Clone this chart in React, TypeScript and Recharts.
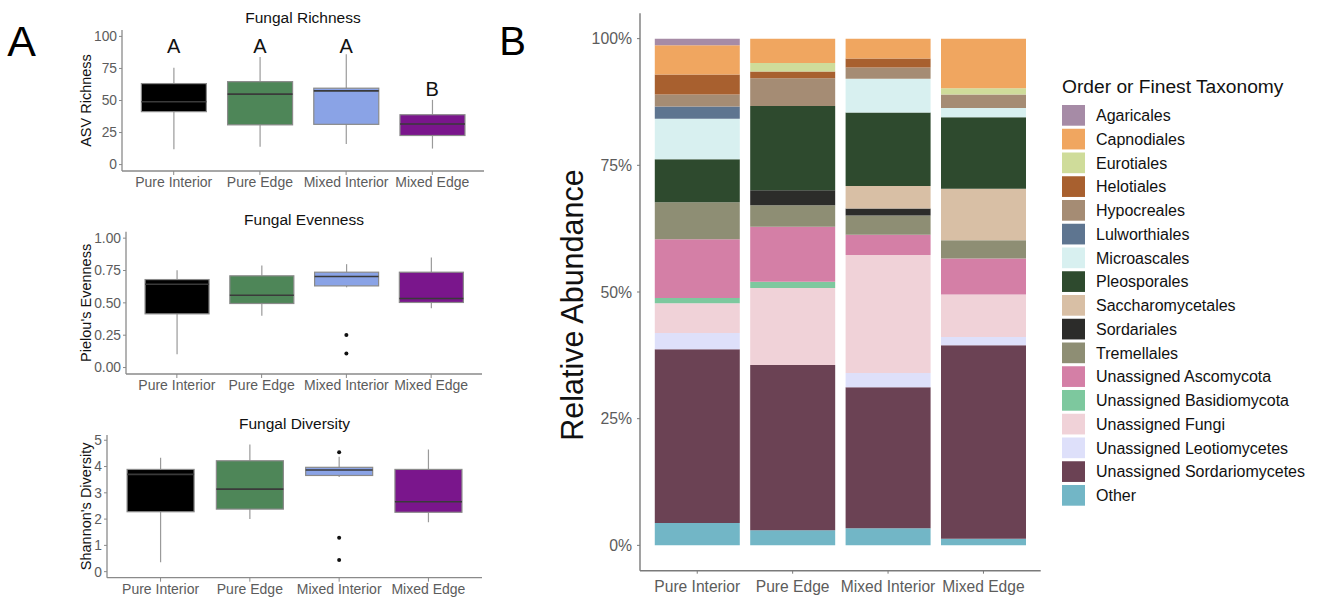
import React from 'react';
import { ComposedChart, BarChart, Bar, XAxis, YAxis, Scatter, Label } from 'recharts';

// ---------- Panel A data ----------
const groups = ['Pure Interior', 'Pure Edge', 'Mixed Interior', 'Mixed Edge'];
const groupColors = ['#000000', '#4E8658', '#8AA3E6', '#7A168C'];

// Fungal Richness
const richMin = [12, 14, 16, 12.5];
const richQ1 = [41.3, 31, 31.4, 22.7];
const richMed = [49, 55, 57.5, 31.7];
const richQ3 = [63.2, 64.7, 59.6, 38.9];
const richMax = [75.5, 84, 86, 50.5];
const richOutliers: number[][] = [[], [], [], []];
const richLetters = ['A', 'A', 'A', 'B'];
const richLetterY = [87, 87, 87, 53.5];

// Fungal Evenness
const evenMin = [0.103, 0.4, 0.62, 0.459];
const evenQ1 = [0.415, 0.495, 0.631, 0.503];
const evenMed = [0.644, 0.559, 0.704, 0.534];
const evenQ3 = [0.68, 0.709, 0.737, 0.737];
const evenMax = [0.752, 0.789, 0.799, 0.851];
const evenOutliers: number[][] = [[], [], [0.252, 0.108], []];

// Fungal Diversity
const divMin = [0.36, 2.0, 3.6, 1.88];
const divQ1 = [2.28, 2.38, 3.66, 2.26];
const divMed = [3.7, 3.14, 3.87, 2.66];
const divQ3 = [3.89, 4.22, 3.97, 3.89];
const divMax = [4.33, 4.84, 4.37, 4.65];
const divOutliers: number[][] = [[], [], [4.54, 1.29, 0.44], []];

// ---------- Panel B data ----------
const taxa = [
  'Agaricales', 'Capnodiales', 'Eurotiales', 'Helotiales', 'Hypocreales', 'Lulworthiales',
  'Microascales', 'Pleosporales', 'Saccharomycetales', 'Sordariales', 'Tremellales',
  'Unassigned Ascomycota', 'Unassigned Basidiomycota', 'Unassigned Fungi',
  'Unassigned Leotiomycetes', 'Unassigned Sordariomycetes', 'Other',
];
const taxaColors = [
  '#A68BA6', '#F0A660', '#CFDC9A', '#A8602F', '#A58C74', '#5E7590',
  '#D8F0F0', '#2E4A2E', '#D8BFA5', '#2C2C2A', '#8E8E74',
  '#D47FA6', '#7DC89E', '#F0D2D8', '#DEE0FA', '#6B4254', '#72B6C6',
];
const agaricales = [1.3, 0, 0, 0];
const capnodiales = [5.8, 4.8, 3.9, 9.8];
const eurotiales = [0, 1.7, 0, 1.2];
const helotiales = [3.9, 1.3, 1.8, 0];
const hypocreales = [2.4, 5.5, 2.2, 2.7];
const lulworthiales = [2.4, 0, 0, 0];
const microascales = [8.0, 0, 6.7, 1.8];
const pleosporales = [8.5, 16.6, 14.5, 14.1];
const saccharomycetales = [0, 0, 4.4, 10.2];
const sordariales = [0, 3.0, 1.4, 0];
const tremellales = [7.3, 4.2, 3.8, 3.6];
const unAscomycota = [11.6, 10.9, 4.0, 7.1];
const unBasidiomycota = [1.0, 1.2, 0, 0];
const unFungi = [5.9, 15.2, 23.3, 8.4];
const unLeotiomycetes = [3.2, 0, 2.8, 1.6];
const unSordariomycetes = [34.3, 32.6, 27.8, 38.2];
const other = [4.4, 3.0, 3.4, 1.3];
const taxaValues = [
  agaricales, capnodiales, eurotiales, helotiales, hypocreales, lulworthiales,
  microascales, pleosporales, saccharomycetales, sordariales, tremellales,
  unAscomycota, unBasidiomycota, unFungi, unLeotiomycetes, unSordariomycetes, other,
];
const pctTicks = [0, 25, 50, 75, 100];

const FONT = '"Liberation Sans", Arial, sans-serif';
const TICK_COLOR = '#5c5c5c';
const AXIS_COLOR = '#8a8a8a';

function buildBoxRows(mins: number[], q1: number[], med: number[], q3: number[], max: number[], outs: number[][], letters?: string[], letterY?: number[]) {
  return groups.map((g, i) => {
    const row: any = { group: g, min: mins[i], q1: q1[i], med: med[i], q3: q3[i], max: max[i], color: groupColors[i] };
    outs[i].forEach((v, k) => { row['o' + k] = v; });
    if (letters && letterY) { row.letter = letters[i]; row.letterY = letterY[i]; }
    return row;
  });
}

const BoxShape = (props: any) => {
  const { x, y, width, height, payload } = props;
  const top = Math.min(y, y + height);
  const bot = Math.max(y, y + height);
  const { min, q1, med, q3, max, color } = payload;
  const py = (v: number) => top + ((max - v) / (max - min)) * (bot - top);
  const cx = x + width / 2;
  return (
    <g>
      <line x1={cx} x2={cx} y1={py(max)} y2={py(q3)} stroke="#9a9a9a" strokeWidth={1.2} />
      <line x1={cx} x2={cx} y1={py(q1)} y2={py(min)} stroke="#9a9a9a" strokeWidth={1.2} />
      <rect x={x} y={py(q3)} width={width} height={py(q1) - py(q3)} fill={color} stroke="#8a8a8a" strokeWidth={1.2} />
      <line x1={x} x2={x + width} y1={py(med)} y2={py(med)} stroke="#3a3a3a" strokeWidth={1.6} />
    </g>
  );
};

const OutlierShape = (k: number) => (props: any) => {
  const { cx, cy, payload } = props;
  if (payload == null || payload['o' + k] == null || cx == null || cy == null || isNaN(cy)) return <g />;
  return <circle cx={cx} cy={cy} r={2} fill="#111" />;
};

const LetterShape = (props: any) => {
  const { cx, cy, payload } = props;
  if (payload == null || payload.letter == null) return <g />;
  return (
    <text x={cx} y={cy} textAnchor="middle" fontSize={20} fill="#111" fontFamily={FONT}>
      {payload.letter}
    </text>
  );
};

type BoxCfg = {
  top: number; left: number; width: number; height: number;
  margin: { top: number; right: number; bottom: number; left: number };
  yWidth: number; xHeight: number; domain: [number, number]; ticks: number[];
  fmt: (v: number) => string; rows: any[]; nOut: number; yLabel: string; labelX: number;
  letters?: boolean;
};

const BoxPanel = ({ cfg }: { cfg: BoxCfg }) => {
  const plotW = cfg.width - cfg.margin.left - cfg.margin.right - cfg.yWidth;
  const pad = (plotW / 4.2) * 0.1;
  const outIdx = Array.from({ length: cfg.nOut }, (_, k) => k);
  return (
    <div style={{ position: 'absolute', left: cfg.left, top: cfg.top }}>
      <ComposedChart width={cfg.width} height={cfg.height} data={cfg.rows} margin={cfg.margin} barCategoryGap="12.5%">
        <XAxis
          dataKey="group" type="category" height={cfg.xHeight} padding={{ left: pad, right: pad }}
          axisLine={{ stroke: AXIS_COLOR, strokeWidth: 1.3 }} tickLine={{ stroke: AXIS_COLOR }}
          tickSize={4} tickMargin={2} interval={0}
          tick={{ fontSize: 14, fill: TICK_COLOR, fontFamily: FONT }}
        />
        <YAxis
          type="number" domain={cfg.domain} ticks={cfg.ticks} width={cfg.yWidth} allowDataOverflow
          axisLine={{ stroke: AXIS_COLOR, strokeWidth: 1.3 }} tickLine={{ stroke: AXIS_COLOR }}
          tickSize={3} tickMargin={2} tickFormatter={cfg.fmt} interval={0}
          tick={{ fontSize: 13.8, fill: TICK_COLOR, fontFamily: FONT }}
        >
          <Label
            content={(p: any) => {
              const vb = p.viewBox;
              const cx = vb.x + cfg.labelX;
              const cy = vb.y + vb.height / 2;
              return (
                <text x={cx} y={cy} transform={`rotate(-90 ${cx} ${cy})`} textAnchor="middle" fontSize={14.5} fill="#111" fontFamily={FONT}>
                  {cfg.yLabel}
                </text>
              );
            }}
          />
        </YAxis>
        <Bar dataKey={(d: any) => [d.min, d.max]} shape={BoxShape} isAnimationActive={false} />
        {outIdx.map((k) => (
          <Scatter key={k} dataKey={'o' + k} shape={OutlierShape(k)} isAnimationActive={false} />
        ))}
        {cfg.letters ? <Scatter dataKey="letterY" shape={LetterShape} isAnimationActive={false} /> : null}
      </ComposedChart>
    </div>
  );
};

const richRows = buildBoxRows(richMin, richQ1, richMed, richQ3, richMax, richOutliers, richLetters, richLetterY);
const evenRows = buildBoxRows(evenMin, evenQ1, evenMed, evenQ3, evenMax, evenOutliers);
const divRows = buildBoxRows(divMin, divQ1, divMed, divQ3, divMax, divOutliers);

const cfgs: BoxCfg[] = [
  {
    top: 0, left: 0, width: 500, height: 200, margin: { top: 30, right: 16, bottom: 4, left: 0 },
    yWidth: 122, xHeight: 25, domain: [-5, 105], ticks: [0, 25, 50, 75, 100], fmt: (v) => String(v),
    rows: richRows, nOut: 0, yLabel: 'ASV Richness', labelX: 91, letters: true,
  },
  {
    top: 190, left: 0, width: 500, height: 210, margin: { top: 41.7, right: 18, bottom: 1, left: 0 },
    yWidth: 126, xHeight: 25, domain: [-0.05, 1.05], ticks: [0, 0.25, 0.5, 0.75, 1], fmt: (v) => v.toFixed(2),
    rows: evenRows, nOut: 2, yLabel: "Pielou's Evenness", labelX: 91,
  },
  {
    top: 390, left: 0, width: 500, height: 207, margin: { top: 45, right: 18, bottom: 0.3, left: 0 },
    yWidth: 107, xHeight: 19, domain: [-0.23, 5.2], ticks: [0, 1, 2, 3, 4, 5], fmt: (v) => String(v),
    rows: divRows, nOut: 3, yLabel: "Shannon's Diversity", labelX: 91,
  },
];

const titles = [
  { text: 'Fungal Richness', x: 303, y: 23 },
  { text: 'Fungal Evenness', x: 304, y: 225 },
  { text: 'Fungal Diversity', x: 294.5, y: 428.5 },
];

// ---------- Panel B ----------
const barRows = groups.map((g, i) => {
  const row: any = { group: g };
  taxa.forEach((t, j) => { row[t] = taxaValues[j][i]; });
  return row;
});

const BW = 510;
const bMargin = { top: 13.3, right: 9.3, bottom: 2.3, left: 0 };
const bYWidth = 100;
const bPlotW = BW - bMargin.right - bYWidth;
const bPad = (bPlotW / 4.2) * 0.1;

const AbundanceChart = () => (
  <div style={{ position: 'absolute', left: 540, top: 0 }}>
    <BarChart width={BW} height={597} data={barRows} margin={bMargin} barCategoryGap="5.5%">
      <XAxis
        dataKey="group" type="category" height={24} padding={{ left: bPad, right: bPad }}
        axisLine={{ stroke: '#7a7a7a', strokeWidth: 1.4 }} tickLine={{ stroke: '#7a7a7a' }}
        tickSize={3} tickMargin={7} interval={0}
        tick={{ fontSize: 15.6, fill: TICK_COLOR, fontFamily: FONT }}
      />
      <XAxis
        xAxisId="top" orientation="top" dataKey="group" type="category" height={0}
        tick={false} tickLine={false} axisLine={{ stroke: '#7a7a7a', strokeWidth: 1.4 }}
      />
      <YAxis
        type="number" domain={[-5, 105]} ticks={pctTicks} width={bYWidth} allowDataOverflow interval={0}
        axisLine={{ stroke: '#7a7a7a', strokeWidth: 1.4 }} tickLine={{ stroke: '#7a7a7a' }}
        tickSize={3} tickMargin={5} tickFormatter={(v: number) => `${v}%`}
        tick={{ fontSize: 15.8, fill: TICK_COLOR, fontFamily: FONT }}
      >
        <Label
          content={(p: any) => {
            const vb = p.viewBox;
            const cx = vb.x + 43.3;
            const cy = vb.y + vb.height / 2 + 13;
            return (
              <text x={cx} y={cy} transform={`rotate(-90 ${cx} ${cy})`} textAnchor="middle" fontSize={30.5} fill="#111" fontFamily={FONT}>
                Relative Abundance
              </text>
            );
          }}
        />
      </YAxis>
      <YAxis
        yAxisId="right" orientation="right" type="number" domain={[0, 1]} width={0}
        tick={false} tickLine={false} axisLine={{ stroke: '#7a7a7a', strokeWidth: 1.4 }}
      />
      {taxa.slice().reverse().map((t) => {
        const j = taxa.indexOf(t);
        return <Bar key={t} dataKey={t} stackId="s" fill={taxaColors[j]} isAnimationActive={false} />;
      })}
    </BarChart>
  </div>
);

export default function App() {
  return (
    <div style={{ position: 'relative', width: 1320, height: 597, background: '#fff', fontFamily: FONT, overflow: 'hidden' }}>
      <style>{'body{margin:0;}'}</style>
      {cfgs.map((c, i) => <BoxPanel key={i} cfg={c} />)}
      <AbundanceChart />
      <svg width={1320} height={597} style={{ position: 'absolute', left: 0, top: 0, pointerEvents: 'none' }}>
        <text x={21.5} y={56} textAnchor="middle" fontSize={43} fill="#000" fontFamily={FONT}>A</text>
        <text x={512.5} y={55} textAnchor="middle" fontSize={40} fill="#000" fontFamily={FONT}>B</text>
        {titles.map((t) => (
          <text key={t.text} x={t.x} y={t.y} textAnchor="middle" fontSize={15.5} fill="#111" fontFamily={FONT}>{t.text}</text>
        ))}
        <text x={1062} y={93.3} fontSize={19.2} fill="#111" fontFamily={FONT}>Order or Finest Taxonomy</text>
        {taxa.map((t, i) => {
          const top = 105 + i * 23.75;
          return (
            <g key={t}>
              <rect x={1062} y={top} width={23} height={20.7} fill={taxaColors[i]} />
              <text x={1096} y={top + 16} fontSize={16} fill="#111" fontFamily={FONT}>{t}</text>
            </g>
          );
        })}
      </svg>
    </div>
  );
}
